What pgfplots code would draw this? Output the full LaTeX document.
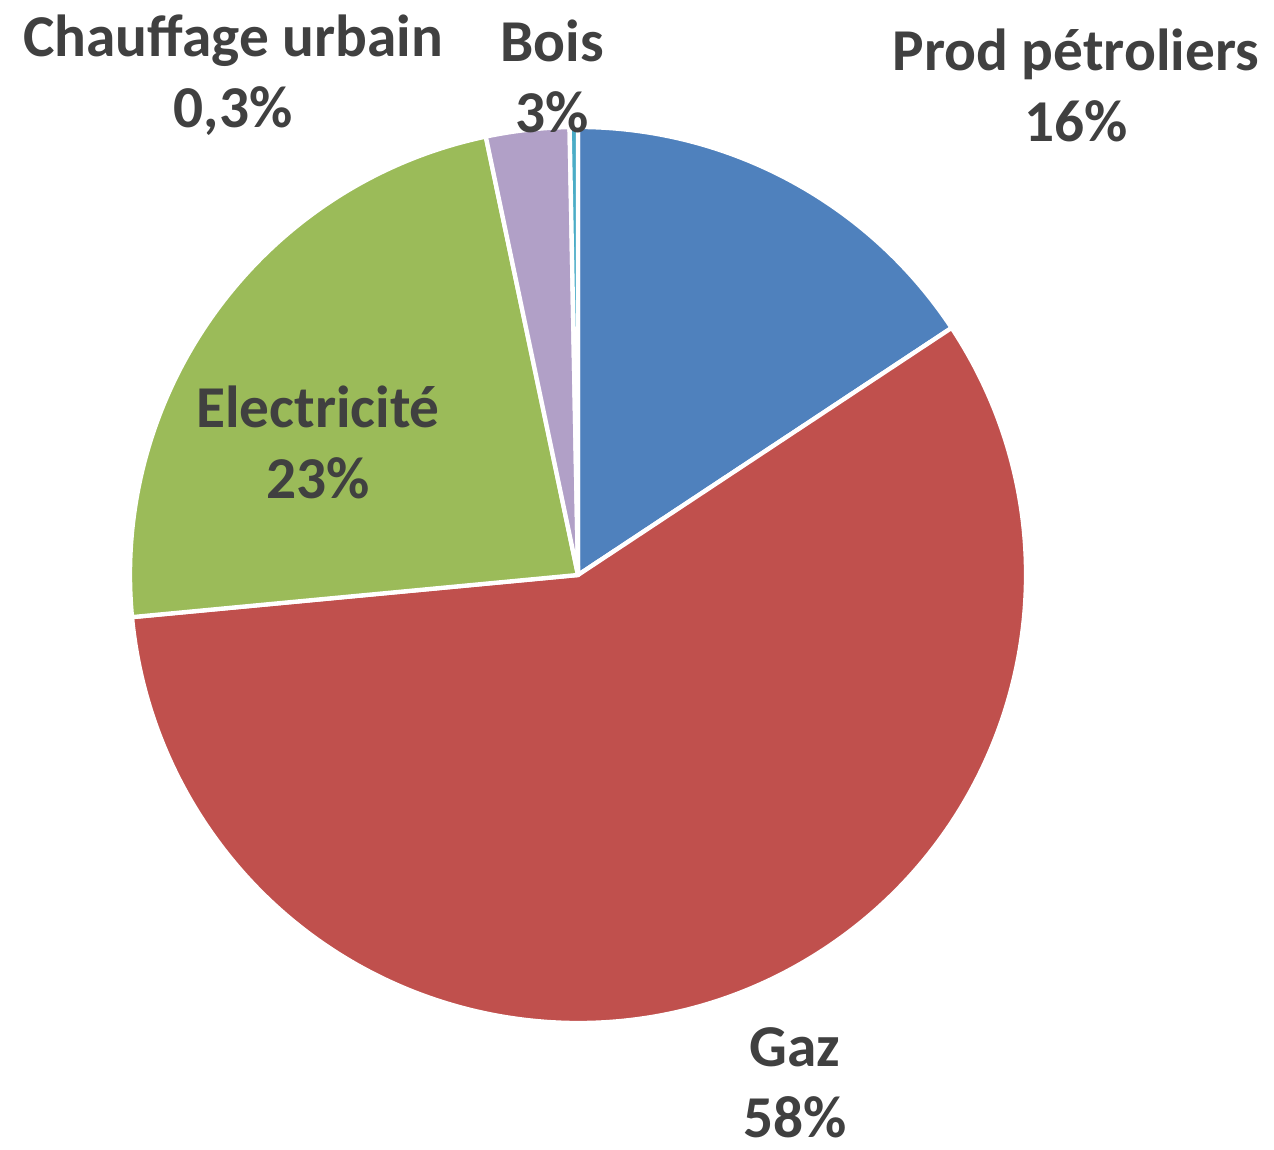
\documentclass[border=0pt]{standalone}
\usepackage{pgfplots}
\pgfplotsset{compat=1.18}
\usepackage{fontspec}
\setmainfont{Carlito}

\definecolor{cpetrole}{HTML}{4F81BD}
\definecolor{cgaz}{HTML}{C0504D}
\definecolor{celec}{HTML}{9BBB59}
\definecolor{cbois}{HTML}{B1A0C7}
\definecolor{cchauf}{HTML}{4BACC6}
\definecolor{labeltxt}{HTML}{404040}

% pie centre and radius, in the pixel frame of the axis
\def\cx{578}
\def\cy{569}
\def\rr{448}

\begin{document}
\begin{tikzpicture}
\begin{axis}[
    x=0.3pt, y=0.3pt,
    xmin=0, xmax=1274, ymin=0, ymax=1144,
    hide axis, clip=false,
]
% keep the whole frame as the picture's size
\path (axis cs:0,0) rectangle (axis cs:1274,1144);
% share of each energy (%), clockwise from 12 o'clock
\foreach \v/\c [remember=\e as \s (initially 90)] in
    {15.7/cpetrole, 57.8/cgaz, 23.2/celec, 3.0/cbois, 0.3/cchauf}{
  \pgfmathsetmacro\e{\s-3.6*\v}
  \pgfmathsetmacro\px{\cx+\rr*cos(\s)}
  \pgfmathsetmacro\py{\cy+\rr*sin(\s)}
  \edef\temp{\noexpand\filldraw[fill=\c, draw=white, line width=1.3pt, line join=round]
    (axis cs:\cx,\cy) -- (axis cs:\px,\py)
    arc[start angle=\s, end angle=\e, radius=134.4pt] -- cycle;}
  \temp
}
\begin{scope}[every node/.style={font=\fontsize{17.8}{21.3}\selectfont\bfseries,
    text=labeltxt, align=center}]
\node at (axis cs:1076,1059) {Prod pétroliers\\16\%};
\node at (axis cs:795,61) {Gaz\\58\%};
\node at (axis cs:318,702) {Electricité\\23\%};
\node at (axis cs:552,1068) {Bois\\3\%};
\node at (axis cs:233,1069) {Chauffage urbain\\0,3\%};
\end{scope}
\end{axis}
\end{tikzpicture}
\end{document}
